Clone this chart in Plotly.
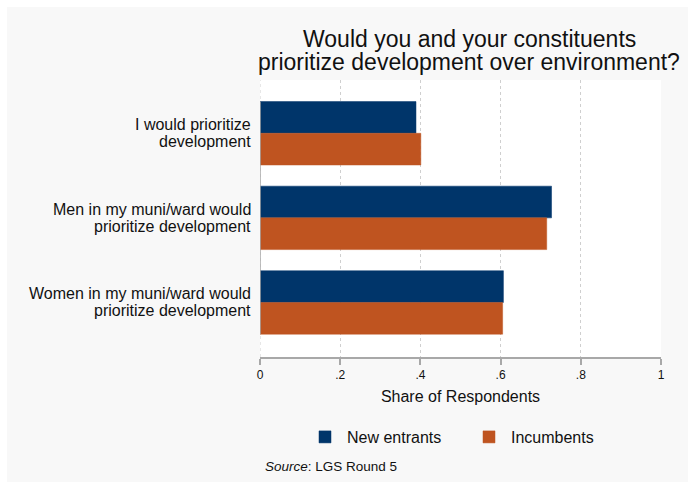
import plotly.graph_objects as go

categories = ["I would prioritize<br>development",
              "Men in my muni/ward would<br>prioritize development",
              "Women in my muni/ward would<br>prioritize development"]
new_entrants = [0.389, 0.727, 0.607]
incumbents = [0.401, 0.715, 0.605]
series_names = ["New entrants", "Incumbents"]
x_tickvals = [0, 0.2, 0.4, 0.6, 0.8, 1]
x_ticktext = ["0", ".2", ".4", ".6", ".8", "1"]

FONT = "Liberation Sans, Arial, Helvetica, sans-serif"
NAVY = "#00356a"
ORANGE = "#bf5420"
TXT = "#111111"
W, H = 695, 489
L, R, T, B = 260, 34, 80, 132
PW, PH = W - L - R, H - T - B


def px_x(p):
    return (p - L) / PW


def px_y(p):
    return (H - B - p) / PH


fig = go.Figure()
fig.add_trace(go.Bar(y=categories, x=new_entrants, name=series_names[0], orientation="h",
                     marker=dict(color=NAVY, line=dict(color=NAVY, width=0.5))))
fig.add_trace(go.Bar(y=categories, x=incumbents, name=series_names[1], orientation="h",
                     marker=dict(color=ORANGE, line=dict(color=ORANGE, width=0.5))))

fig.update_layout(
    width=W, height=H,
    margin=dict(l=L, r=R, t=T, b=B, pad=0, autoexpand=False),
    paper_bgcolor="#f8f8f8",
    plot_bgcolor="#ffffff",
    barmode="group",
    bargap=0.25,
    bargroupgap=0,
    font=dict(family=FONT, color=TXT),
    showlegend=True,
    legend=dict(orientation="h", x=px_x(303), xanchor="left", y=px_y(437), yanchor="middle",
                font=dict(size=16, family=FONT, color=TXT), bgcolor="rgba(0,0,0,0)",
                itemwidth=34, entrywidth=115, entrywidthmode="pixels", traceorder="normal"),
    xaxis=dict(range=[0, 1], tickvals=x_tickvals, ticktext=x_ticktext,
               showgrid=True, gridcolor="#cfcfcf", griddash="dot", gridwidth=1,
               zeroline=False, showline=True, linecolor="#a8a8a8", linewidth=1.5,
               ticks="outside", ticklen=6, tickcolor="#a8a8a8", tickwidth=1.5,
               tickfont=dict(size=12, family=FONT, color=TXT),
               title=dict(text="Share of Respondents", font=dict(size=16, family=FONT, color=TXT),
                          standoff=10)),
    yaxis=dict(range=[2.645, -0.63], showgrid=False, zeroline=False, showline=False,
               ticks="", showticklabels=False),
)

# category labels, two tightly spaced lines each, right-aligned next to the axis
for cat in categories:
    lines = cat.split("<br>")
    for i, line in enumerate(lines):
        fig.add_annotation(text=line, xref="paper", yref="y", x=px_x(253), y=cat,
                           xanchor="right", yanchor="middle", showarrow=False,
                           yshift=8.5 - 17 * i,
                           font=dict(size=16, family=FONT, color=TXT))

# dotted gridline at 0 above/below the bars
fig.add_shape(type="line", xref="x", yref="paper", x0=0, x1=0, y0=0, y1=1,
              line=dict(color="#cfcfcf", width=1, dash="dot"), layer="below")
# category axis line spanning the bars
fig.add_shape(type="line", xref="x", yref="y", x0=0, x1=0, y0=-0.375, y1=2.375,
              line=dict(color="#a8a8a8", width=1.5), layer="above")

# title (two lines, tightly spaced as in the reference)
fig.add_annotation(text="Would you and your constituents", xref="paper", yref="paper",
                   x=px_x(469), y=px_y(39.5), xanchor="center", yanchor="middle", showarrow=False,
                   font=dict(size=23, family=FONT, color=TXT))
fig.add_annotation(text="prioritize development over environment?", xref="paper", yref="paper",
                   x=px_x(469), y=px_y(62), xanchor="center", yanchor="middle", showarrow=False,
                   font=dict(size=23, family=FONT, color=TXT))

# source note
fig.add_annotation(text="<i>Source</i>: LGS Round 5", xref="paper", yref="paper",
                   x=px_x(263), y=px_y(466), xanchor="left", yanchor="middle", showarrow=False,
                   font=dict(size=13.5, family=FONT, color=TXT))

# white outer border
fig.add_shape(type="rect", xref="paper", yref="paper",
              x0=px_x(0), x1=px_x(W), y0=px_y(H), y1=px_y(0),
              line=dict(color="#ffffff", width=14), fillcolor="rgba(0,0,0,0)", layer="above")

fig.write_html("out.html", config={"displayModeBar": False},
               post_script="document.body.style.margin='0';")
